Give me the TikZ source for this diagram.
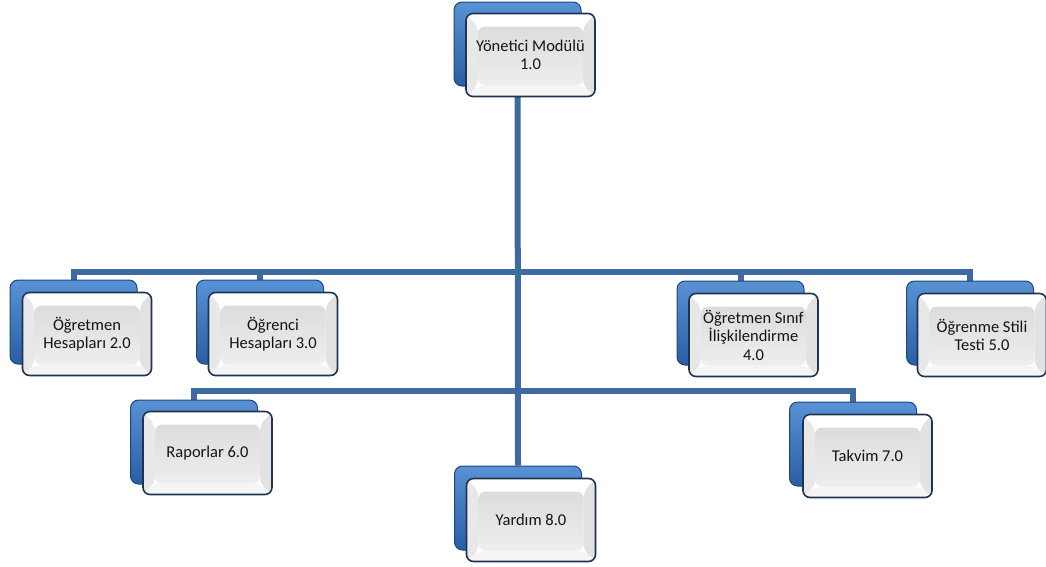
\documentclass[tikz,border=0pt]{standalone}
\usepackage{fontspec}
\setmainfont{Carlito}
\usetikzlibrary{backgrounds,calc}

\definecolor{linkblue}{RGB}{62,106,160}
\definecolor{backtop}{RGB}{88,146,212}
\definecolor{backbot}{RGB}{42,94,164}
\definecolor{backedge}{RGB}{30,70,126}
\definecolor{frontedge}{RGB}{30,52,82}
\definecolor{facetop}{RGB}{220,220,220}
\definecolor{facebot}{RGB}{238,238,238}
\definecolor{bevelside}{RGB}{232,232,232}
\definecolor{bevelright}{RGB}{226,226,226}
\definecolor{txt}{RGB}{20,20,20}

\tikzset{
  conn/.style={draw=linkblue, line width=6pt},
  backbox/.style={rectangle, rounded corners=8pt, minimum width=127pt, minimum height=84pt,
    top color=backtop, bottom color=backbot, draw=backedge, line width=1pt},
  frontbox/.style={rectangle, rounded corners=7pt, minimum width=129pt, minimum height=83pt,
    fill=white, draw=frontedge, line width=1.6pt, text=txt, align=center,
    font=\fontsize{16.5}{18.5}\selectfont,
    path picture={
      \coordinate (sw) at (path picture bounding box.south west);
      \coordinate (ne) at (path picture bounding box.north east);
      \coordinate (nw) at (path picture bounding box.north west);
      \coordinate (se) at (path picture bounding box.south east);
      \coordinate (isw) at ($(sw)+(12pt,11pt)$);
      \coordinate (ise) at ($(se)+(-12pt,11pt)$);
      \coordinate (inw) at ($(nw)+(12pt,-13pt)$);
      \coordinate (ine) at ($(ne)+(-12pt,-13pt)$);
      % bevel strips round the face
      \fill[bevelside] (sw) -- (isw) -- (inw) -- (nw) -- cycle;
      \fill[bevelright] (se) -- (ise) -- (ine) -- (ne) -- cycle;
      \fill[white] (nw) -- (inw) -- (ine) -- (ne) -- cycle;
      \fill[white!96!black] (sw) -- (isw) -- (ise) -- (se) -- cycle;
      % face
      \shade[top color=facetop, bottom color=facebot] (isw) rectangle (ine);
    }},
}

\begin{document}
\begin{tikzpicture}[x=1pt, y=-1pt]
\useasboundingbox (0,0) rectangle (1046,566);

% top module
\node[backbox] (tb) at (517.5,44) {};
\node[frontbox] (t) at (530.5,55) {Yönetici Modülü\\1.0};

% second row
\node[backbox] (b1b) at (73.5,322) {};
\node[frontbox] (b1) at (87,334) {Öğretmen\\Hesapları 2.0};
\node[backbox] (b2b) at (260,322) {};
\node[frontbox] (b2) at (273,334) {Öğrenci\\Hesapları 3.0};
\node[backbox] (b3b) at (740.5,323) {};
\node[frontbox] (b3) at (753.5,335) {Öğretmen Sınıf\\İlişkilendirme\\4.0};
\node[backbox] (b4b) at (970,323) {};
\node[frontbox] (b4) at (982,335) {Öğrenme Stili\\Testi 5.0};

% third row
\node[backbox] (b6b) at (194,442) {};
\node[frontbox] (b6) at (207.5,453) {Raporlar 6.0};
\node[backbox] (b7b) at (853,444) {};
\node[frontbox] (b7) at (867.5,456) {Takvim 7.0};

% bottom module
\node[backbox] (b8b) at (518,508) {};
\node[frontbox] (b8) at (531,520) {Yardım 8.0};

\coordinate (bus1) at (517.5,272);
\coordinate (bus2) at (517.5,391);

\begin{scope}[on background layer]
  \draw[conn] (tb.center) -- (b8b.north);
  \draw[conn] (b1b.north) |- (bus1) -| (b4b.north);
  \draw[conn] (b2b.north) |- (bus1) -| (b3b.north);
  \draw[conn] (b6b.north) |- (bus2) -| (b7b.north);
\end{scope}
\end{tikzpicture}
\end{document}
